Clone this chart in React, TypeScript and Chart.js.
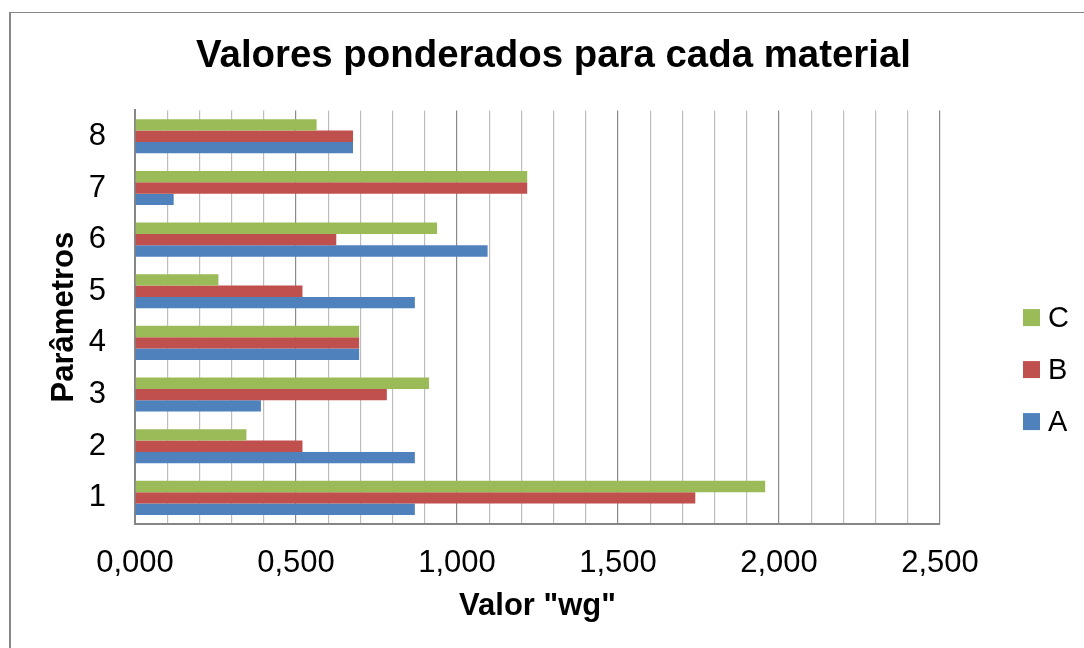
import React, { useEffect, useRef } from 'react';
import { Chart, registerables } from 'chart.js';

Chart.register(...registerables);

const categories = ['1', '2', '3', '4', '5', '6', '7', '8'];
const seriesA = [0.869, 0.869, 0.391, 0.696, 0.869, 1.095, 0.12, 0.677];
const seriesB = [1.74, 0.52, 0.782, 0.696, 0.52, 0.625, 1.218, 0.677];
const seriesC = [1.957, 0.346, 0.913, 0.696, 0.259, 0.938, 1.218, 0.564];
const seriesNames = ['C', 'B', 'A'];
const seriesColors = ['#9BBB59', '#C0504D', '#4F81BD'];
const xMin = 0;
const xMax = 2.5;
const xMinorStep = 0.1;
const xMajorStep = 0.5;

const chartTitle = 'Valores ponderados para cada material';
const xTitle = 'Valor "wg"';
const yTitle = 'Parâmetros';

const FONT = 'Arial, "Liberation Sans", sans-serif';

const isMajor = (v: number) => {
  const r = v / xMajorStep;
  return Math.abs(r - Math.round(r)) < 1e-6;
};

const sideLegend = {
  id: 'sideLegend',
  afterDraw(chart: any) {
    const { ctx, chartArea } = chart;
    const mid = (chartArea.top + chartArea.bottom) / 2;
    ctx.save();
    ctx.font = `29px ${FONT}`;
    ctx.textBaseline = 'middle';
    ctx.textAlign = 'left';
    chart.data.datasets.forEach((ds: any, i: number) => {
      const y = mid + 0.5 + i * 52;
      const x = chartArea.right + 83;
      ctx.fillStyle = ds.backgroundColor;
      ctx.fillRect(x, y - 8.5, 17, 17);
      ctx.fillStyle = '#000';
      ctx.fillText(ds.label, chartArea.right + 108, y + 1);
    });
    ctx.restore();
  },
};

export default function App() {
  const ref = useRef<HTMLCanvasElement | null>(null);

  useEffect(() => {
    if (!ref.current) return;
    const values = [seriesC, seriesB, seriesA];
    const chart = new Chart(ref.current, {
      type: 'bar',
      data: {
        labels: categories,
        datasets: seriesNames.map((name, i) => ({
          label: name,
          data: values[i],
          backgroundColor: seriesColors[i],
          borderWidth: 0,
          barPercentage: 1,
          categoryPercentage: 0.66,
        })),
      },
      plugins: [sideLegend],
      options: {
        indexAxis: 'y',
        animation: false,
        responsive: false,
        layout: { padding: { left: 0, right: 0, top: 0, bottom: 0 } },
        plugins: {
          legend: { display: false },
          tooltip: { enabled: false },
          title: {
            display: true,
            text: chartTitle,
            color: '#000',
            font: { family: FONT, size: 38.4, weight: 'bold' },
            padding: { top: 20.7, bottom: 30.7 },
          },
        },
        scales: {
          x: {
            type: 'linear',
            position: 'bottom',
            min: xMin,
            max: xMax,
            ticks: {
              stepSize: xMinorStep,
              autoSkip: false,
              maxRotation: 0,
              padding: 21.5,
              color: '#000',
              font: { family: FONT, size: 31 },
              callback: (v: any) => {
                const n = Number(v);
                return isMajor(n) ? n.toFixed(3).replace('.', ',') : '';
              },
            },
            grid: {
              drawTicks: false,
              lineWidth: 1.2,
              color: (c: any) => (c.tick && isMajor(c.tick.value) ? '#8a8a8a' : '#bdbdbd'),
            },
            border: { color: '#868686', width: 2 },
            title: {
              display: true,
              text: xTitle,
              color: '#000',
              font: { family: FONT, size: 31, weight: 'bold' },
              padding: { top: -16.5, bottom: 23.4 },
            },
          },
          y: {
            type: 'category',
            position: 'left',
            reverse: true,
            ticks: {
              padding: 29,
              color: '#000',
              font: { family: FONT, size: 31 },
            },
            grid: { drawOnChartArea: false, drawTicks: false, color: 'rgba(0,0,0,0)' },
            border: { color: '#868686', width: 2 },
            title: {
              display: true,
              text: yTitle,
              color: '#000',
              font: { family: FONT, size: 31, weight: 'bold' },
              padding: { top: 34.7, bottom: -23.1 },
            },
          },
          yRight: {
            type: 'category',
            position: 'right',
            display: true,
            ticks: { display: false },
            grid: { display: false, drawTicks: false },
            border: { display: false },
            afterFit: (scale: any) => {
              scale.width = 156;
            },
          },
        },
      } as any,
    });
    return () => chart.destroy();
  }, []);

  return (
    <div
      style={{
        position: 'fixed',
        left: 0,
        top: 0,
        width: 1084,
        height: 648,
        overflow: 'hidden',
        background: '#fff',
      }}
    >
      <div
        style={{
          position: 'absolute',
          left: 9,
          top: 12,
          width: 1086,
          height: 700,
          borderLeft: '2px solid #878787',
          borderTop: '1px solid #878787',
        }}
      >
        <canvas ref={ref} width={1085} height={635} style={{ display: 'block' }} />
      </div>
    </div>
  );
}
